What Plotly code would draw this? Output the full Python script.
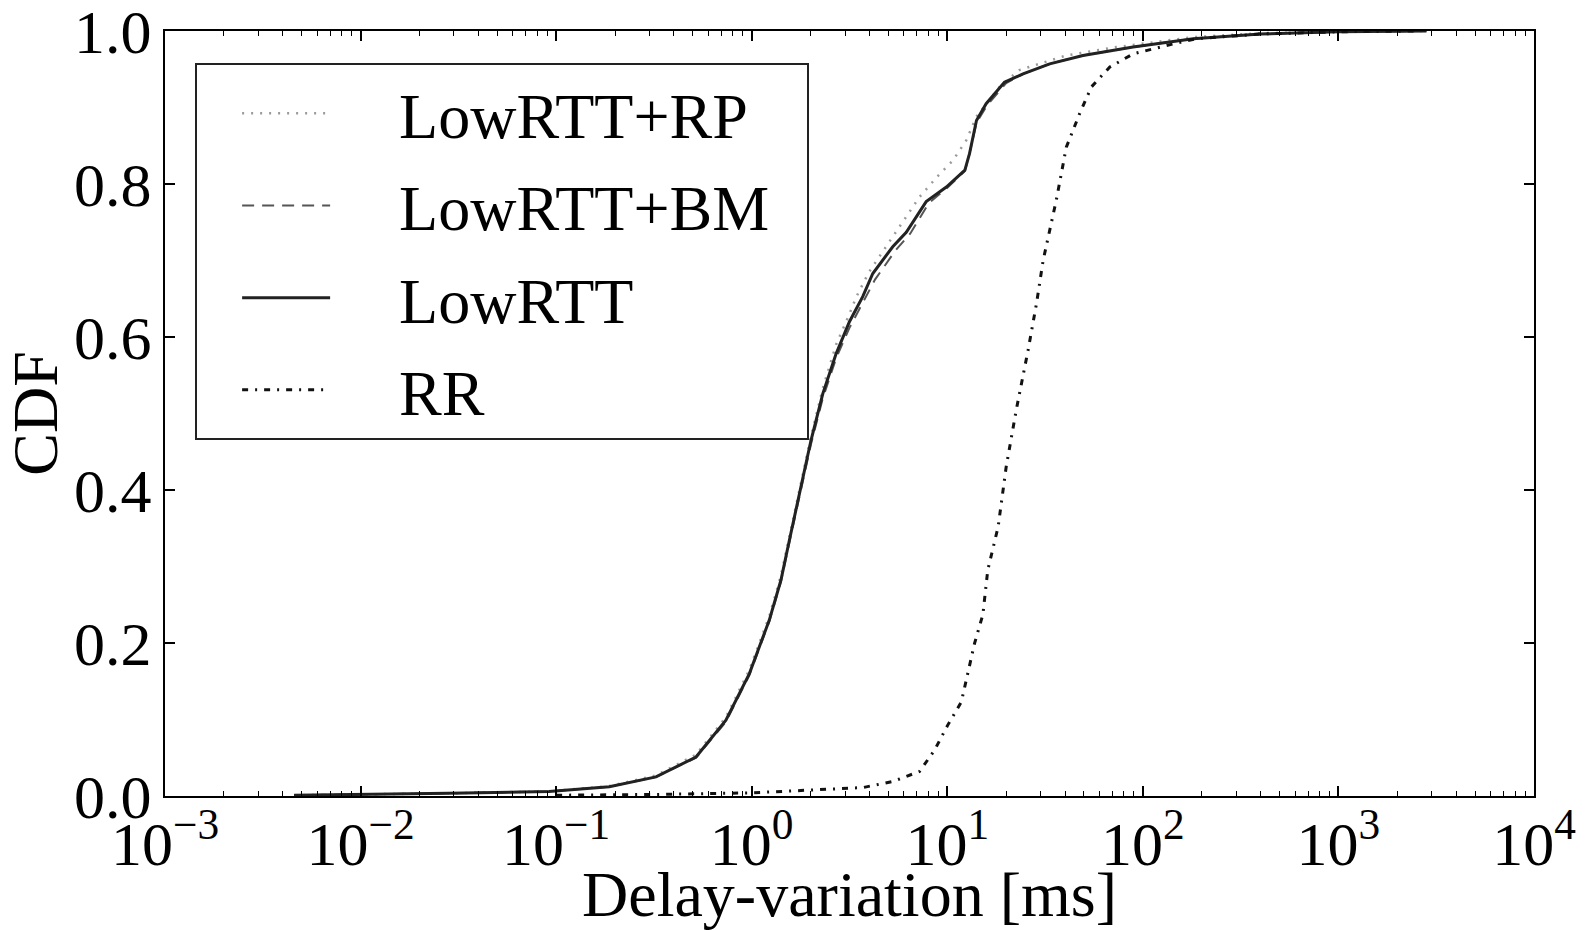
import plotly.graph_objects as go

# ---- data (x in ms, y = CDF) ----
lowrtt_x = [0.00457, 0.01, 0.0282, 0.092, 0.187, 0.324, 0.519, 0.738, 0.973, 1.23, 1.41, 1.56, 1.79, 2.01,
            2.31, 2.70, 3.16, 3.70, 4.16, 5.26, 6.17, 7.80, 9.89, 12.3, 13.0, 14.1, 15.8, 19.6, 24.4,
            33.4, 49.4, 89.1, 181, 398, 1000, 2820]
lowrtt_y = [0.001, 0.002, 0.0035, 0.006, 0.012, 0.025, 0.051, 0.099, 0.160, 0.230, 0.282, 0.335, 0.404, 0.465,
            0.526, 0.578, 0.620, 0.653, 0.683, 0.718, 0.737, 0.777, 0.796, 0.818, 0.840, 0.883, 0.905, 0.933, 0.944,
            0.957, 0.968, 0.979, 0.990, 0.996, 0.999, 1.0]

rp_x = [0.00457, 0.01, 0.0282, 0.092, 0.187, 0.324, 0.519, 0.738, 0.973, 1.23, 1.41, 1.56, 1.79, 2.01,
        2.31, 2.70, 3.16, 3.42, 3.98, 4.86, 5.89, 7.21, 8.91, 10.7, 12.5, 14.1, 18.5, 23.4, 40.6, 73.3,
        181, 398, 1000, 2820]
rp_y = [0.001, 0.002, 0.0035, 0.006, 0.013, 0.027, 0.054, 0.103, 0.165, 0.235, 0.288, 0.340, 0.410, 0.470,
        0.533, 0.590, 0.630, 0.652, 0.685, 0.718, 0.748, 0.783, 0.810, 0.831, 0.857, 0.888, 0.927, 0.949, 0.968, 0.979,
        0.992, 0.997, 0.9995, 1.0]

bm_x = [0.00457, 0.01, 0.0282, 0.092, 0.187, 0.324, 0.519, 0.738, 0.973, 1.23, 1.41, 1.56, 1.79, 2.01,
        2.31, 2.70, 3.16, 3.70, 4.27, 5.43, 6.46, 8.04, 10.0, 12.3, 13.0, 14.1, 16.0, 20.0, 24.5,
        33.4, 49.4, 89.1, 181, 398, 1000, 2820]
bm_y = [0.001, 0.002, 0.0035, 0.006, 0.012, 0.025, 0.050, 0.097, 0.158, 0.228, 0.280, 0.332, 0.400, 0.460,
        0.520, 0.572, 0.612, 0.645, 0.675, 0.713, 0.735, 0.775, 0.795, 0.817, 0.840, 0.880, 0.903, 0.932, 0.944,
        0.957, 0.968, 0.979, 0.990, 0.996, 0.999, 1.0]

rr_x = [0.1, 0.316, 0.973, 1.44, 2.59, 3.70, 5.26, 7.21, 8.61, 10.07, 11.8, 12.8, 13.8, 15.2, 16.1, 18.2,
        20.0, 22.5, 25.9, 28.6, 30.9, 36.1, 40.6, 47.5, 54.6, 67.8, 89.1, 132, 188, 398, 1000, 2512]
rr_y = [0.001, 0.002, 0.004, 0.006, 0.009, 0.011, 0.019, 0.032, 0.060, 0.093, 0.123, 0.162, 0.200, 0.237, 0.295, 0.352,
        0.430, 0.504, 0.583, 0.644, 0.700, 0.779, 0.848, 0.892, 0.927, 0.953, 0.970, 0.981, 0.990, 0.996, 0.999, 1.0]

series_names = ["LowRTT+RP", "LowRTT+BM", "LowRTT", "RR"]

x_tickvals = [1e-3, 1e-2, 1e-1, 1e0, 1e1, 1e2, 1e3, 1e4]
x_ticktext = ["10<sup>\u22123</sup>", "10<sup>\u22122</sup>", "10<sup>\u22121</sup>", "10<sup>0</sup>",
              "10<sup>1</sup>", "10<sup>2</sup>", "10<sup>3</sup>", "10<sup>4</sup>"]
y_tickvals = [0.0, 0.2, 0.4, 0.6, 0.8, 1.0]
y_ticktext = ["0.0", "0.2", "0.4", "0.6", "0.8", "1.0"]

minor_vals = [m * 10.0 ** e for e in range(-3, 4) for m in range(2, 10)]

FONT = "Liberation Serif, Times New Roman, serif"
GAP = "\u00a0" * 4   # visual gap between legend sample and label
TAIL = "\u00a0" * 2


def legend_label(s):
    return GAP + s + TAIL


fig = go.Figure()
fig.add_trace(go.Scatter(x=rp_x, y=rp_y, mode="lines", name=legend_label(series_names[0]), legendgroup="a",
                         line=dict(color="#9a9a9a", width=2.5, dash="2px,7px")))
fig.add_trace(go.Scatter(x=bm_x, y=bm_y, mode="lines", name=legend_label(series_names[1]), legendgroup="b",
                         line=dict(color="#555555", width=2, dash="12px,8px")))
fig.add_trace(go.Scatter(x=lowrtt_x, y=lowrtt_y, mode="lines", name=legend_label(series_names[2]), legendgroup="c",
                         line=dict(color="#222222", width=3)))
fig.add_trace(go.Scatter(x=rr_x, y=rr_y, mode="lines", name=legend_label(series_names[3]), legendgroup="d",
                         line=dict(color="#111111", width=3, dash="6px,7px,2px,7px")))

fig.update_layout(
    width=1593, height=930,
    margin=dict(l=165, r=59, t=31, b=134),
    paper_bgcolor="white", plot_bgcolor="white",
    font=dict(family=FONT, size=62, color="black"),
    showlegend=True,
    legend=dict(x=0.022, y=0.958, xanchor="left", yanchor="top",
                bgcolor="white", bordercolor="#222222", borderwidth=2,
                font=dict(family=FONT, size=64, color="black"),
                tracegroupgap=6, itemwidth=88, indentation=40),
)
fig.update_xaxes(
    type="log", range=[-3, 4], automargin=False,
    tickmode="array", tickvals=x_tickvals, ticktext=x_ticktext,
    ticks="inside", ticklen=10, tickwidth=1.5, tickcolor="black",
    minor=dict(tickmode="array", tickvals=minor_vals, ticks="inside", ticklen=5, tickwidth=1.2, tickcolor="black"),
    showline=True, linecolor="black", linewidth=2, mirror="ticks",
    showgrid=False, zeroline=False,
    tickfont=dict(family=FONT, size=62, color="black"),
    ticklabelstandoff=-7, ticklabeloverflow="allow",
    title=dict(text="Delay-variation [ms]", font=dict(family=FONT, size=64, color="black"), standoff=0),
)
fig.update_yaxes(
    range=[0, 1], automargin=False,
    tickmode="array", tickvals=y_tickvals, ticktext=y_ticktext,
    ticks="inside", ticklen=10, tickwidth=1.5, tickcolor="black",
    showline=True, linecolor="black", linewidth=2, mirror="ticks",
    showgrid=False, zeroline=False,
    tickfont=dict(family=FONT, size=62, color="black"),
    ticklabelstandoff=-1, ticklabeloverflow="allow",
    title=dict(text="CDF", font=dict(family=FONT, size=64, color="black"), standoff=0),
)

fig.write_html("out.html", config={"displayModeBar": False},
               post_script="document.body.style.margin='0';document.body.style.overflow='hidden';")
